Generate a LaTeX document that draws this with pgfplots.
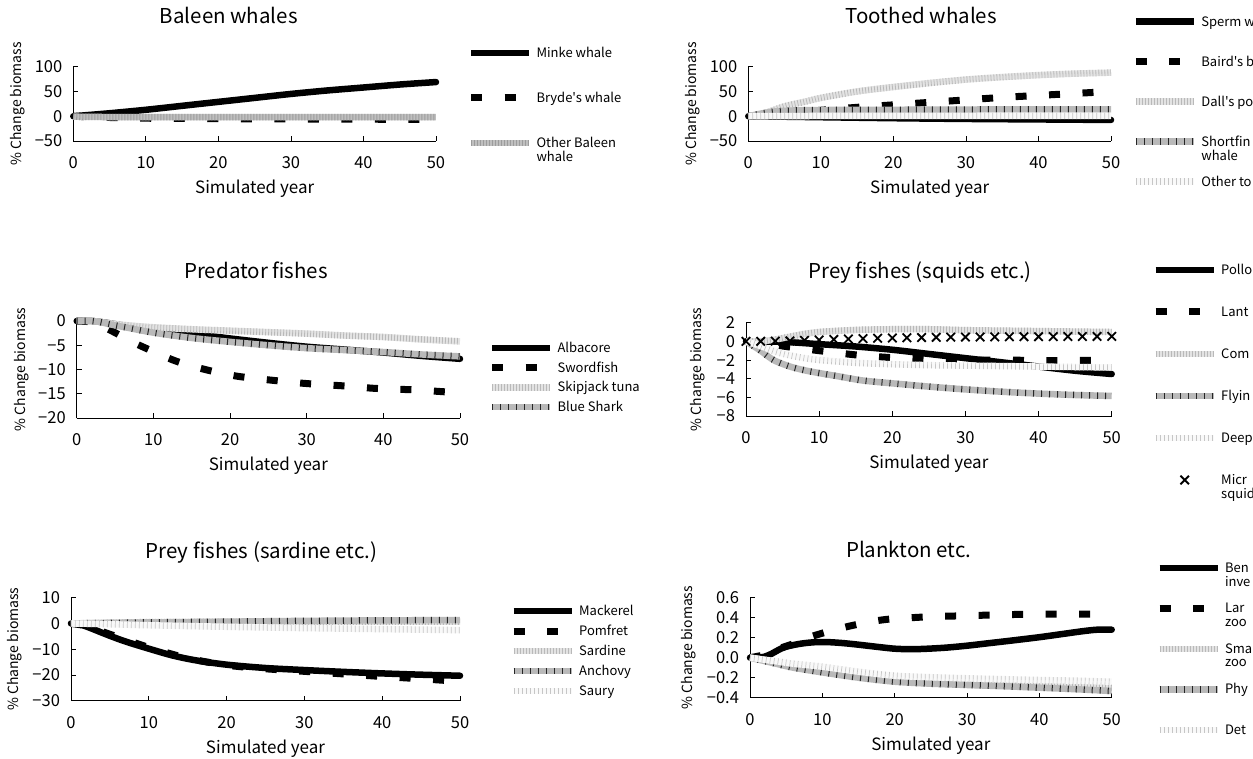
\documentclass[border=0pt]{standalone}
\usepackage{fontspec}
\setmainfont{Noto Sans CJK JP}[Ligatures=TeXOff]
\usepackage{pgfplots}
\pgfplotsset{compat=1.18}

\pgfplotsset{
 every axis title shift=0pt,
 solidS/.style={black, line width=6.5pt, line cap=round, line join=round, smooth, mark=none},
 dashS/.style={black, line width=7pt, dash pattern=on 11pt off 22.5pt, line cap=butt, smooth, mark=none},
 midS/.style={draw=gray!50, line width=6.5pt, line join=round, smooth, mark=none, postaction={draw=gray!78, line width=6.5pt, dash pattern=on 1pt off 2pt}},
 lightS/.style={draw=gray!22, line width=6.5pt, line join=round, smooth, mark=none, postaction={draw=gray!55, line width=6.5pt, dash pattern=on 0.8pt off 2.2pt}},
 hatchS/.style={draw=gray!55, line width=6.5pt, line join=round, smooth, mark=none, postaction={draw=black!85, line width=6.5pt, dash pattern=on 1pt off 7pt}},
 whiteS/.style={draw=gray!5, line width=6.5pt, line join=round, smooth, mark=none, postaction={draw=gray!45, line width=6.5pt, dash pattern=on 0.7pt off 3.3pt}},
 xS/.style={only marks, mark=x, mark size=6pt, mark options={line width=1.8pt, black, solid}},
 xleg/.style={legend image code/.code={\draw[##1] plot coordinates {(29pt,4.5pt)};}},
 myaxis/.style={
   scale only axis, anchor=south west,
   xmin=0, xmax=50,
   axis x line*=bottom, axis y line*=left,
   axis line style={line width=0.8pt, black, -},
   tick align=inside, major tick length=5pt,
   tick style={line width=0.8pt, black},
   xtick={0,10,20,30,40,50}, xticklabels={0,10,20,30,40,50},
   tick label style={font=\fontsize{16.5}{19}\selectfont},
   xticklabel style={anchor=center, yshift=-22pt},
   yticklabel style={anchor=east, xshift=-7.5pt},
   clip=false,
   title style={font=\fontsize{20.5}{24}\selectfont, anchor=base},
   xlabel={Simulated year},
   ylabel={\% Change biomass},
   xlabel style={font=\fontsize{17}{20}\selectfont, at={(axis description cs:0.5,0)}, anchor=center, yshift=-48pt},
   ylabel style={font=\fontsize{14}{17}\selectfont, anchor=center},
   legend style={draw=none, fill=none, inner sep=0pt, outer sep=0pt, anchor=north west,
     cells={anchor=base west},
     nodes={inner sep=0pt, outer sep=0pt, text height=10pt, text depth=0pt, font=\fontsize{13}{13.5}\selectfont},
     column sep=4pt},
   legend image code/.code={\draw[##1, line cap=butt] (0pt,4.5pt) -- (58pt,4.5pt);},
 }
}
\newcommand{\two}[2]{\begin{tabular}[t]{@{}l@{}}#1\\#2\end{tabular}}

\begin{document}
\begin{tikzpicture}[x=1pt,y=1pt]
\useasboundingbox (0pt,0pt) rectangle (1253pt,758pt);
\clip (0pt,0pt) rectangle (1253pt,758pt);

% ---------------- Panel 1: Baleen whales
\begin{axis}[myaxis, at={(73.3pt,617pt)}, width=362.7pt, height=74.3pt,
  ymin=-50, ymax=100, ytick={-50,0,50,100}, yticklabels={−50,0,50,100},
  title={Baleen whales}, title style={at={(axis description cs:0.4286,1.5747)}},
  ylabel style={at={(axis description cs:-0.1525,0.5)}},
  legend style={at={(axis description cs:1.0869,1.2584)}, row sep=35pt}]
\addplot[solidS] coordinates {(0,0)(5,6)(10,13)(15,21)(20,29)(25,37)(30,45)(35,52)(40,58)(45,64)(50,69)};
\addlegendentry{Minke whale}
\addplot[dashS] coordinates {(0,0)(3,-1.5)(6,-3)(10,-4)(15,-4.5)(20,-5)(30,-5.5)(40,-6)(50,-6.5)};
\addlegendentry{Bryde's whale}
\addplot[midS] coordinates {(0,-0.5)(3,-1.5)(20,-2)(50,-2)};
\addlegendentry{\two{Other Baleen}{whale}}
\end{axis}

% ---------------- Panel 2: Toothed whales
\begin{axis}[myaxis, at={(748.3pt,617pt)}, width=362.7pt, height=74.3pt,
  ymin=-50, ymax=100, ytick={-50,0,50,100}, yticklabels={−50,0,50,100},
  title={Toothed whales}, title style={at={(axis description cs:0.477,1.5747)}},
  ylabel style={at={(axis description cs:-0.153,0.5)}},
  legend style={at={(axis description cs:1.059,1.6797)}, row sep=30pt}]
\addplot[solidS] coordinates {(0,0)(10,-2)(20,-4)(30,-5.5)(40,-6.5)(50,-7.5)};
\addlegendentry{Sperm w}
\addplot[dashS] coordinates {(0,0)(5,6)(10,12)(15,18)(20,23)(25,28)(30,33)(35,38)(40,42)(45,46)(50,50)};
\addlegendentry{Baird's b}
\addplot[lightS] coordinates {(0,0)(2,5)(5,20)(8,30)(10,37)(15,50)(20,59)(25,67)(30,74)(35,79)(40,83)(45,86)(50,88)};
\addlegendentry{Dall's po}
\addplot[hatchS] coordinates {(0,0)(2,6)(4,10)(7,12)(10,12.5)(20,13)(30,13.5)(40,14)(50,14)};
\addlegendentry{\two{Shortfin}{whale}}
\addplot[whiteS] coordinates {(0,0)(10,0.5)(30,0.5)(50,0.5)};
\addlegendentry{Other to}
\end{axis}

% ---------------- Panel 3: Predator fishes
\begin{axis}[myaxis, at={(76.7pt,340pt)}, width=383.3pt, height=97pt,
  ymin=-20, ymax=0, ytick={-20,-15,-10,-5,0}, yticklabels={−20,−15,−10,−5,0},
  title={Predator fishes}, title style={at={(axis description cs:0.468,1.438)}},
  ylabel style={at={(axis description cs:-0.1438,0.5)}},
  legend style={at={(axis description cs:1.0746,0.7804)}, row sep=9.8pt}]
\addplot[solidS] coordinates {(0,0)(2,0)(4,-0.4)(6,-0.9)(8,-1.3)(10,-1.7)(15,-2.6)(20,-3.6)(25,-4.5)(30,-5.3)(35,-5.9)(40,-6.5)(45,-7.2)(50,-7.8)};
\addlegendentry{Albacore}
\addplot[dashS] coordinates {(0,0)(2,-0.2)(3,-0.8)(5,-2.4)(7,-4.1)(9,-5.6)(13,-8.3)(17,-10.1)(21,-11.4)(26,-12.3)(30,-12.9)(35,-13.4)(39,-13.9)(44,-14.2)(48,-14.6)(50,-14.8)};
\addlegendentry{Swordfish}
\addplot[lightS] coordinates {(0,0)(2,0)(4,-0.4)(6,-0.8)(10,-1.3)(15,-1.7)(20,-2.0)(25,-2.3)(30,-2.6)(35,-3.0)(40,-3.3)(45,-3.8)(50,-4.2)};
\addlegendentry{Skipjack tuna}
\addplot[hatchS] coordinates {(0,0)(2,0)(3,-0.2)(5,-0.9)(7,-1.5)(10,-2.4)(15,-3.5)(20,-4.3)(25,-5.0)(30,-5.6)(35,-6.0)(40,-6.4)(45,-6.9)(50,-7.3)};
\addlegendentry{Blue Shark}
\end{axis}

% ---------------- Panel 4: Prey fishes (squids etc.)
\begin{axis}[myaxis, at={(746pt,342pt)}, width=365.7pt, height=93.3pt,
  ymin=-8, ymax=2, ytick={-8,-6,-4,-2,0,2}, yticklabels={−8,−6,−4,−2,0,2},
  title={Prey fishes (squids etc.)}, title style={at={(axis description cs:0.476,1.4737)}},
  ylabel style={at={(axis description cs:-0.131,0.5)}},
  legend style={at={(axis description cs:1.1108,1.6238)}, row sep=32pt}]
\addplot[solidS] coordinates {(0,0)(5,-0.05)(10,-0.3)(15,-0.55)(20,-0.9)(25,-1.35)(30,-1.8)(35,-2.25)(40,-2.7)(45,-3.15)(50,-3.5)};
\addlegendentry{Pollo}
\addplot[dashS] coordinates {(0,0)(2,-0.1)(5,-0.5)(10,-1.0)(15,-1.45)(20,-1.75)(25,-1.9)(30,-2.0)(35,-2.0)(40,-2.05)(45,-2.05)(50,-2.05)};
\addlegendentry{Lant}
\addplot[lightS] coordinates {(0,0)(2,0)(4,0.2)(6,0.5)(8,0.8)(10,1.0)(13,1.15)(16,1.25)(20,1.3)(25,1.3)(30,1.2)(35,1.15)(40,1.1)(45,1.05)(50,1.0)};
\addlegendentry{Com}
\addplot[hatchS] coordinates {(0,0)(1,-0.5)(2,-1.0)(3,-1.6)(4,-2.1)(6,-2.7)(8,-3.1)(10,-3.4)(13,-3.8)(16,-4.2)(20,-4.5)(25,-4.85)(30,-5.15)(35,-5.4)(40,-5.6)(45,-5.75)(50,-5.85)};
\addlegendentry{Flyin}
\addplot[whiteS] coordinates {(0,0)(2,-0.5)(4,-1.1)(6,-1.5)(8,-1.8)(10,-2.0)(15,-2.3)(20,-2.45)(25,-2.55)(30,-2.6)(35,-2.65)(40,-2.7)(45,-2.75)(50,-2.8)};
\addlegendentry{Deep}
\addplot[xS, xleg] coordinates {(0,0)(2,0)(4,0.02)(6,0.05)(8,0.1)(10,0.15)(12,0.2)(14,0.25)(16,0.3)(18,0.33)(20,0.36)(22,0.39)(24,0.41)(26,0.43)(28,0.45)(30,0.46)(32,0.47)(34,0.48)(36,0.49)(38,0.5)(40,0.5)(42,0.51)(44,0.52)(46,0.52)(48,0.53)(50,0.53)};
\addlegendentry{\two{Micr}{squid}}
\end{axis}

% ---------------- Panel 5: Prey fishes (sardine etc.)
\begin{axis}[myaxis, at={(71pt,57.3pt)}, width=389pt, height=103pt,
  ymin=-30, ymax=10, ytick={-30,-20,-10,0,10}, yticklabels={−30,−20,−10,0,10},
  title={Prey fishes (sardine etc.)}, title style={at={(axis description cs:0.49,1.3854)}},
  ylabel style={at={(axis description cs:-0.1447,0.5)}},
  legend style={at={(axis description cs:1.129,0.9243)}, row sep=10pt}]
\addplot[solidS] coordinates {(0,0)(1,-0.3)(2,-1.2)(3,-2.4)(5,-4.8)(7,-7.0)(10,-9.8)(13,-12.4)(16,-14.3)(20,-16.0)(25,-17.3)(30,-18.1)(35,-18.8)(40,-19.4)(45,-19.9)(50,-20.3)};
\addlegendentry{Mackerel}
\addplot[dashS] coordinates {(0,0)(2,-1.0)(5,-4.2)(10,-9.3)(15,-13.5)(20,-16.2)(25,-17.6)(30,-18.6)(35,-19.6)(40,-20.6)(45,-21.5)(50,-22.5)};
\addlegendentry{Pomfret}
\addplot[lightS] coordinates {(0,0)(5,0.3)(10,0.5)(20,0.6)(30,0.7)(40,0.7)(50,0.7)};
\addlegendentry{Sardine}
\addplot[hatchS] coordinates {(0,0)(5,0.2)(10,0.4)(20,0.7)(30,1.0)(40,1.2)(50,1.3)};
\addlegendentry{Anchovy}
\addplot[whiteS] coordinates {(0,0)(5,-0.3)(10,-0.7)(20,-1.3)(30,-1.8)(40,-2.2)(50,-2.6)};
\addlegendentry{Saury}
\end{axis}

% ---------------- Panel 6: Plankton etc.
\begin{axis}[myaxis, at={(750pt,60.3pt)}, width=361.7pt, height=100pt,
  ymin=-0.4, ymax=0.6, ytick={-0.4,-0.2,0,0.2,0.4,0.6}, yticklabels={−0.4,−0.2,0.0,0.2,0.4,0.6},
  title={Plankton etc.}, title style={at={(axis description cs:0.439,1.397)}},
  ylabel style={at={(axis description cs:-0.1687,0.5)}},
  legend style={at={(axis description cs:1.1225,1.352)}, row sep=30.5pt}]
\addplot[solidS] coordinates {(0,0)(1,0)(2,0.01)(3,0.04)(4,0.08)(5,0.11)(7,0.14)(9,0.155)(11,0.155)(13,0.145)(15,0.13)(18,0.105)(20,0.09)(22,0.085)(24,0.088)(27,0.1)(30,0.12)(33,0.145)(36,0.17)(40,0.205)(43,0.235)(46,0.265)(48,0.28)(50,0.28)};
\addlegendentry{\two{Ben}{inve}}
\addplot[dashS] coordinates {(0,0)(2,0.03)(4,0.09)(6,0.14)(8,0.2)(10,0.245)(12,0.285)(14,0.32)(16,0.35)(18,0.375)(20,0.39)(25,0.41)(30,0.42)(35,0.43)(40,0.435)(45,0.435)(50,0.435)};
\addlegendentry{\two{Lar}{zoo}}
\addplot[lightS] coordinates {(0,0)(5,-0.06)(10,-0.13)(15,-0.18)(20,-0.22)(30,-0.26)(40,-0.28)(50,-0.3)};
\addlegendentry{\two{Sma}{zoo}}
\addplot[hatchS] coordinates {(0,0)(3,-0.05)(6,-0.1)(10,-0.147)(15,-0.2)(20,-0.24)(25,-0.26)(30,-0.273)(35,-0.285)(40,-0.3)(45,-0.315)(50,-0.333)};
\addlegendentry{Phy}
\addplot[whiteS] coordinates {(0,0)(3,-0.03)(6,-0.06)(10,-0.09)(15,-0.14)(20,-0.18)(25,-0.195)(30,-0.206)(35,-0.215)(40,-0.223)(45,-0.23)(50,-0.24)};
\addlegendentry{Det}
\end{axis}
\end{tikzpicture}
\end{document}
